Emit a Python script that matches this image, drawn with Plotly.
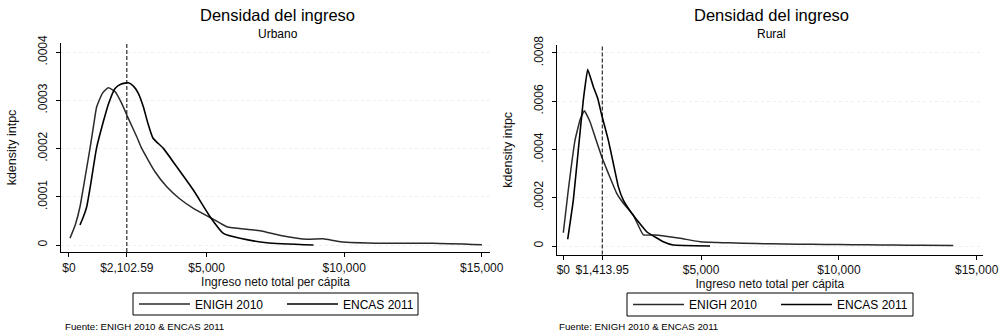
import plotly.graph_objects as go
from plotly.subplots import make_subplots

# ---- Kernel density estimates of per-capita income (x = income, y = density) ----
# Urbano
urb_enigh_x = [36, 230, 400, 600, 764, 900, 1007, 1220, 1429, 1680, 1916, 2156, 2462, 2644,
               3127, 3553, 4000, 4520, 5189, 5735, 6462, 6945, 7793, 8644, 9236, 9855,
               11418, 13236, 15007]
urb_enigh_y = [0.0000139, 0.000042, 0.0000794, 0.000145, 0.0002004, 0.000250, 0.0002866,
               0.000315, 0.000326, 0.000318, 0.0002937, 0.0002626, 0.0002245, 0.0002004,
               0.0001519, 0.0001208, 0.000097, 0.0000761, 0.0000553, 0.0000379, 0.0000325,
               0.0000296, 0.0000187, 0.0000118, 0.0000128, 0.0000068, 0.0000035, 0.0000035,
               0.0000005]
urb_encas_x = [400, 520, 644, 800, 1000, 1247, 1450, 1673, 1900, 2156, 2350, 2520, 2702,
               2870, 3050, 3429, 3916, 4520, 5127, 5611, 6218, 7189, 8884]
urb_encas_y = [0.0000415, 0.000058, 0.0000794, 0.000130, 0.0002004, 0.0002555, 0.000295,
               0.0003248, 0.000334, 0.0003364, 0.000329, 0.0003144, 0.0002866, 0.000252,
               0.000222, 0.0002004, 0.0001623, 0.000114, 0.0000587, 0.0000242, 0.0000139,
               0.0000048, 0.0]

# Rural
rur_enigh_x = [0, 181, 425, 606, 762, 969, 1150, 1393, 1633, 1937, 2177, 2540, 2903, 3327,
               4234, 4960, 6000, 7000, 8000, 9000, 10000, 11000, 12000, 13000, 14150]
rur_enigh_y = [0.000055, 0.000232, 0.000439, 0.000522, 0.000561, 0.000515, 0.000453,
               0.000370, 0.000301, 0.000218, 0.000177, 0.000128, 0.000046, 0.000046,
               0.000032, 0.000018, 0.000013, 0.000010, 0.000008, 0.000007, 0.000006,
               0.000005, 0.000004, 0.000003, 0.000002]
rur_encas_x = [160, 363, 544, 726, 885, 1089, 1247, 1393, 1633, 1814, 1996, 2177, 2481,
               3025, 3628, 3991, 5323]
rur_encas_y = [0.000028, 0.000190, 0.000398, 0.000605, 0.000732, 0.000660, 0.000612,
               0.000543, 0.000439, 0.000343, 0.000246, 0.000190, 0.000136, 0.000059,
               0.000018, 0.000004, 0.0]

# Reference lines (median income) and axis labelling
urb_ref = 2102.59
rur_ref = 1413.95
x_ticks = [0, 5000, 10000, 15000]
x_tick_text = ["$0", "$5,000", "$10,000", "$15,000"]
urb_y_ticks = [0, 0.0001, 0.0002, 0.0003, 0.0004]
urb_y_text = ["0", ".0001", ".0002", ".0003", ".0004"]
rur_y_ticks = [0, 0.0002, 0.0004, 0.0006, 0.0008]
rur_y_text = ["0", ".0002", ".0004", ".0006", ".0008"]

series_names = ["ENIGH 2010", "ENCAS 2011"]
panel_titles = ["Urbano", "Rural"]

W, H = 1006, 336
FONT = "Liberation Sans, Arial, sans-serif"

fig = make_subplots(rows=1, cols=2)

def px_x(v):
    return v / W

def px_y(v):
    return 1 - v / H

panels = [
    dict(col=1, ex=urb_enigh_x, ey=urb_enigh_y, cx=urb_encas_x, cy=urb_encas_y,
         ref=urb_ref, yt=urb_y_ticks, ytt=urb_y_text, smooth=0.5,
         xr=[-290, 15300], yr=[-0.0000145, 0.000419],
         dom_x=[61, 490], dom_y=[43, 252], legend="legend",
         leg_box=[133, 293, 418, 315], fuente_x=63),
    dict(col=2, ex=rur_enigh_x, ey=rur_enigh_y, cx=rur_encas_x, cy=rur_encas_y,
         ref=rur_ref, yt=rur_y_ticks, ytt=rur_y_text, smooth=0.3,
         xr=[-240, 15230], yr=[-0.0000352, 0.000833],
         dom_x=[556.7, 983], dom_y=[45, 254.5], legend="legend2",
         leg_box=[627, 293, 913, 316], fuente_x=557),
]

for i, p in enumerate(panels):
    fig.add_trace(go.Scatter(x=p["ex"], y=p["ey"], mode="lines", name=series_names[0],
                             line=dict(color="#2a2a2a", width=1.5, shape="spline",
                                       smoothing=p["smooth"]),
                             legend=p["legend"]), row=1, col=p["col"])
    fig.add_trace(go.Scatter(x=p["cx"], y=p["cy"], mode="lines", name=series_names[1],
                             line=dict(color="#000000", width=1.6, shape="spline",
                                       smoothing=p["smooth"]),
                             legend=p["legend"]), row=1, col=p["col"])
    fig.add_vline(x=p["ref"], line=dict(color="black", width=1, dash="4px,2px"),
                  row=1, col=p["col"])

    xt = [x_ticks[0], p["ref"]] + x_ticks[1:]
    xtt = [x_tick_text[0], f"${p['ref']:,.2f}"] + x_tick_text[1:]
    fig.update_xaxes(range=p["xr"], domain=[px_x(p["dom_x"][0]), px_x(p["dom_x"][1])],
                     automargin=False,
                     tickvals=xt, ticktext=xtt, ticks="outside", ticklen=4, tickwidth=1,
                     tickcolor="black", showline=True, linecolor="black", linewidth=1.3,
                     showgrid=False, zeroline=False,
                     tickfont=dict(family=FONT, size=12, color="#111"),
                     title=dict(text="Ingreso neto total per cápita", standoff=0,
                                font=dict(family=FONT, size=12, color="#111")),
                     row=1, col=p["col"])
    fig.update_yaxes(range=p["yr"], domain=[px_y(p["dom_y"][1]), px_y(p["dom_y"][0])],
                     automargin=False,
                     tickvals=p["yt"], ticktext=p["ytt"], tickangle=-90, ticks="outside",
                     ticklen=4, tickwidth=1, tickcolor="black", showline=True,
                     linecolor="black", linewidth=1.3, showgrid=True, gridcolor="#efefef",
                     griddash="dot", gridwidth=1, zeroline=False, ticklabelstandoff=4,
                     tickfont=dict(family=FONT, size=12, color="#111"),
                     title=dict(text="kdensity intpc", standoff=16,
                                font=dict(family=FONT, size=12.5, color="#111")),
                     row=1, col=p["col"])

    cx = (p["dom_x"][0] + p["dom_x"][1]) / 2 + 2
    fig.add_annotation(x=px_x(cx), y=px_y(15), xref="paper", yref="paper",
                       text="Densidad del ingreso", showarrow=False,
                       font=dict(family=FONT, size=16.5, color="black"),
                       xanchor="center", yanchor="middle")
    fig.add_annotation(x=px_x(cx), y=px_y(34), xref="paper", yref="paper",
                       text=panel_titles[i], showarrow=False,
                       font=dict(family=FONT, size=12, color="black"),
                       xanchor="center", yanchor="middle")
    fig.add_annotation(x=px_x(p["fuente_x"]), y=px_y(326), xref="paper", yref="paper",
                       text="Fuente: ENIGH 2010 & ENCAS 2011", showarrow=False,
                       font=dict(family=FONT, size=9.7, color="black"),
                       xanchor="left", yanchor="middle")

    # frame around the legend entries
    bx0, by0, bx1, by1 = p["leg_box"]
    fig.add_shape(type="rect", xref="paper", yref="paper",
                  x0=px_x(bx0), x1=px_x(bx1), y0=px_y(by1), y1=px_y(by0),
                  line=dict(color="black", width=1), fillcolor="rgba(0,0,0,0)")

legend_style = dict(orientation="h", xanchor="left", yanchor="top",
                    borderwidth=0, bgcolor="rgba(0,0,0,0)",
                    font=dict(family=FONT, size=12, color="black"),
                    itemwidth=51, entrywidth=82, tracegroupgap=0)

fig.update_layout(
    width=W, height=H,
    margin=dict(l=0, r=0, t=0, b=0, autoexpand=False),
    paper_bgcolor="white", plot_bgcolor="white",
    showlegend=True,
    legend=dict(x=px_x(panels[0]["leg_box"][0] + 1), y=px_y(289.5), **legend_style),
    legend2=dict(x=px_x(panels[1]["leg_box"][0] + 1), y=px_y(290), **legend_style),
)

fig.write_html("out.html", config={"displayModeBar": False})
